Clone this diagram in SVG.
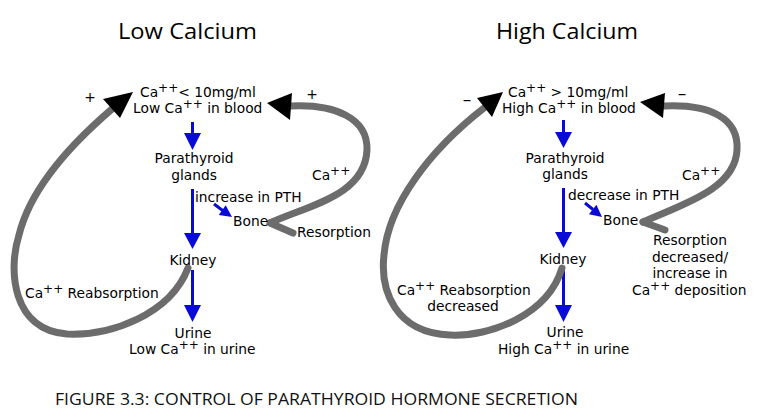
<svg xmlns="http://www.w3.org/2000/svg" width="758" height="413" viewBox="0 0 758 413">
<style>
text{font-family:"DejaVu Sans","Verdana",sans-serif;font-size:13.8px;fill:#000}
.c{text-anchor:middle}
.sup{font-size:12px}
.sign{font-size:17px}
.title{font-family:"Open Sans","Liberation Sans",sans-serif;font-size:22px;fill:#000}
.cap{font-family:"Open Sans","Liberation Sans",sans-serif;font-size:15.5px;fill:#111}
.gray{fill:none;stroke:#6c6c6c;stroke-width:7;stroke-linecap:round}
.blue{stroke:#0a0ad6;stroke-width:3;fill:none}
.bh{fill:#0a0ad6}
.kh{fill:#000}
</style>
<rect width="758" height="413" fill="#fff"/>
<g id="titles">
<text class="title" x="118" y="39" textLength="139" lengthAdjust="spacingAndGlyphs">Low Calcium</text>
<text class="title" x="496" y="39" textLength="142" lengthAdjust="spacingAndGlyphs">High Calcium</text>
<text class="cap" x="55" y="405" textLength="523" lengthAdjust="spacingAndGlyphs">FIGURE 3.3:  CONTROL OF PARATHYROID HORMONE SECRETION</text>
</g>
<g id="connectors">
<!-- left panel -->
<line class="blue" x1="192.5" y1="122" x2="192.5" y2="134"/>
<polygon class="bh" points="184,133 201,133 192.5,150"/>
<line class="blue" x1="192.5" y1="189" x2="192.5" y2="234"/>
<polygon class="bh" points="184,233 201,233 192.5,249"/>
<line class="blue" x1="192.5" y1="270" x2="192.5" y2="306"/>
<polygon class="bh" points="184,305 201,305 192.5,322"/>
<line class="blue" x1="214" y1="204" x2="223" y2="210.7"/>
<polygon class="bh" points="232,217 218.7,215 225.7,205.2"/>
<path class="gray" d="M270,223 L293,233"/>
<path class="gray" d="M272,222 C310,205 365,195 367,150 C368,118 335,104 291,106"/>
<polygon class="kh" points="267,103 292,93 290,120"/>
<path class="gray" d="M188,268 C170,315 110,336 67,334 C12,330 8,270 19,235 C30,190 70,145 112,109"/>
<polygon class="kh" points="133,92 103,99 120,118"/>
<!-- right panel -->
<line class="blue" x1="563.5" y1="120" x2="563.5" y2="133"/>
<polygon class="bh" points="555,132 572,132 563.5,148"/>
<line class="blue" x1="563.5" y1="188" x2="563.5" y2="233"/>
<polygon class="bh" points="555,232 572,232 563.5,248"/>
<line class="blue" x1="563.5" y1="270" x2="563.5" y2="306"/>
<polygon class="bh" points="555,305 572,305 563.5,322"/>
<line class="blue" x1="585" y1="203" x2="593" y2="209.5"/>
<polygon class="bh" points="602,217 588.9,214.2 596.4,204.8"/>
<path class="gray" d="M643,222 L665,230"/>
<path class="gray" d="M643,222 C680,205 735,190 737,150 C739,118 710,104 664,106"/>
<polygon class="kh" points="640,102 665,93 663,118"/>
<path class="gray" d="M562,268 C548,315 490,337 450,335 C395,333 380,290 384,255 C388,205 430,150 484,108"/>
<polygon class="kh" points="503,92 477,98 492,117"/>
</g>
<g id="node-low-blood">
<text x="140" y="97">Ca<tspan class="sup" dy="-5">++</tspan><tspan dy="5">&lt; 10mg/ml</tspan></text>
<text x="133" y="113">Low Ca<tspan class="sup" dy="-5">++</tspan><tspan dy="5"> in blood</tspan></text>
</g>
<g id="node-low-parathyroid">
<text class="c" x="194" y="163">Parathyroid</text>
<text class="c" x="194" y="180">glands</text>
</g>
<g id="node-low-pth"><text x="195" y="202">increase in PTH</text></g>
<g id="node-low-bone"><text x="233" y="226">Bone</text></g>
<g id="node-low-resorption"><text x="297" y="237">Resorption</text></g>
<g id="node-low-kidney"><text class="c" x="193" y="265">Kidney</text></g>
<g id="node-low-urine">
<text class="c" x="193" y="338">Urine</text>
<text x="129" y="354">Low Ca<tspan class="sup" dy="-5">++</tspan><tspan dy="5"> in urine</tspan></text>
</g>
<g id="node-low-reabs"><text x="25" y="298">Ca<tspan class="sup" dy="-5">++</tspan><tspan dy="5"> Reabsorption</tspan></text></g>
<g id="node-low-ca"><text x="312" y="180">Ca<tspan class="sup" dy="-5">++</tspan></text></g>
<g id="node-low-signs">
<text class="c" x="90" y="102">+</text>
<text class="c" x="312" y="99">+</text>
</g>
<g id="node-high-blood">
<text x="508" y="97">Ca<tspan class="sup" dy="-5">++</tspan><tspan dy="5"> &gt; 10mg/ml</tspan></text>
<text x="502" y="113">High Ca<tspan class="sup" dy="-5">++</tspan><tspan dy="5"> in blood</tspan></text>
</g>
<g id="node-high-parathyroid">
<text class="c" x="565" y="163">Parathyroid</text>
<text class="c" x="565" y="179">glands</text>
</g>
<g id="node-high-pth"><text x="568" y="200">decrease in PTH</text></g>
<g id="node-high-bone"><text x="603" y="225">Bone</text></g>
<g id="node-high-resorption">
<text class="c" x="690" y="245">Resorption</text>
<text class="c" x="690" y="262">decreased/</text>
<text class="c" x="690" y="278">increase in</text>
<text x="632" y="295">Ca<tspan class="sup" dy="-5">++</tspan><tspan dy="5"> deposition</tspan></text>
</g>
<g id="node-high-kidney"><text class="c" x="563" y="264">Kidney</text></g>
<g id="node-high-urine">
<text class="c" x="565" y="337">Urine</text>
<text x="498" y="354">High Ca<tspan class="sup" dy="-5">++</tspan><tspan dy="5"> in urine</tspan></text>
</g>
<g id="node-high-reabs">
<text x="397" y="295">Ca<tspan class="sup" dy="-5">++</tspan><tspan dy="5"> Reabsorption</tspan></text>
<text class="c" x="463" y="311">decreased</text>
</g>
<g id="node-high-ca"><text x="682" y="180">Ca<tspan class="sup" dy="-5">++</tspan></text></g>
<g id="node-high-signs">
<text class="c sign" x="467" y="105">–</text>
<text class="c sign" x="682" y="99">–</text>
</g>
</svg>
